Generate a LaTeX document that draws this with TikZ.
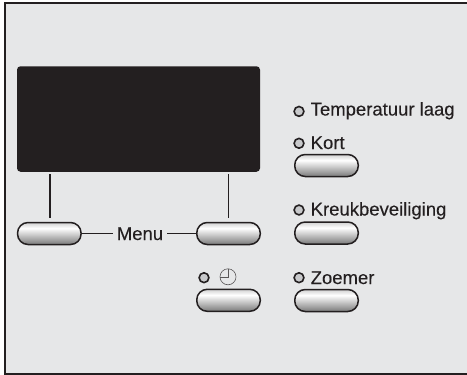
\documentclass[tikz,border=0pt]{standalone}
\usepackage{fontspec}
\setmainfont[FakeBold=0.2]{Liberation Sans}
\definecolor{panelbg}{RGB}{230,231,232}
\definecolor{ink}{RGB}{35,31,32}
\definecolor{ledfill}{RGB}{200,201,203}
\pgfdeclareverticalshading{btnshade}{100bp}{
  color(0bp)=(black!62);
  color(28bp)=(black!48);
  color(62bp)=(white);
  color(78bp)=(black!22);
  color(100bp)=(black!45)}
\tikzset{
  x=1pt,y=-1pt,
  btn/.style={draw=ink,line width=1.5pt,rounded corners=10.5pt,minimum width=63.5pt,minimum height=22pt,inner sep=0pt,shading=btnshade},
  led/.style={circle,draw=ink,line width=1.6pt,fill=ledfill,minimum size=9.8pt,inner sep=0pt},
  lbl/.style={text=ink,font=\fontsize{18.5}{20}\selectfont,anchor=base west,inner sep=0pt},
  conn/.style={draw=ink,line width=1.3pt}
}
\begin{document}
\begin{tikzpicture}
\useasboundingbox (0,0) rectangle (467,375);
\fill[white] (0,0) rectangle (467,375);
\fill[panelbg] (5,3) rectangle (467,374);
\draw[ink,line width=2pt] (467,3.2) -- (4.6,3.2) -- (4.6,373.6) -- (467,373.6);
\node[fill=ink,rounded corners=3.5pt,minimum width=243pt,minimum height=105.5pt,inner sep=0pt] (disp) at (138.5,119) {};
\node[btn] (b1) at (49.3,233.5) {};
\node[btn] (b2) at (228.5,233.5) {};
\node[btn] (b3) at (228.5,300.3) {};
\node[btn] (k) at (326.5,165.5) {};
\node[btn] (kr) at (326.5,233) {};
\node[btn] (z) at (326.5,300.5) {};
\node[lbl,anchor=base,outer sep=4pt] (menu) at (140,240) {Menu};
\coordinate (c1) at (50,174);
\coordinate (c2) at (228.5,174);
\coordinate (e1) at (50,217.5);
\coordinate (e2) at (228.5,217.5);
\draw[conn] (c1) -- (e1);
\draw[conn] (c2) -- (e2);
\draw[conn] (b1.east) -- (b1.east -| menu.west);
\draw[conn] (b2.west) -- (b2.west -| menu.east);
\node[led] (l1) at (299,111.4) {};
\node[led] (l2) at (299,143.3) {};
\node[led] (l3) at (299,210) {};
\node[led] (l4) at (299,277.7) {};
\node[led] (l5) at (204,277.7) {};
\node[lbl] (t1) at (310.5,115.5) {Temperatuur laag};
\node[lbl] (t2) at (310.5,149) {Kort};
\node[lbl] (t3) at (310.5,215.5) {Kreukbeveiliging};
\node[lbl] (t4) at (310.5,284) {Zoemer};
\node[circle,draw=ink!75,line width=.6pt,minimum size=16pt,inner sep=0pt] (clk) at (228,276.8) {};
\draw[ink!75,line width=.6pt] (clk.north) -- (clk.center) -- (clk.west);
\end{tikzpicture}
\end{document}
